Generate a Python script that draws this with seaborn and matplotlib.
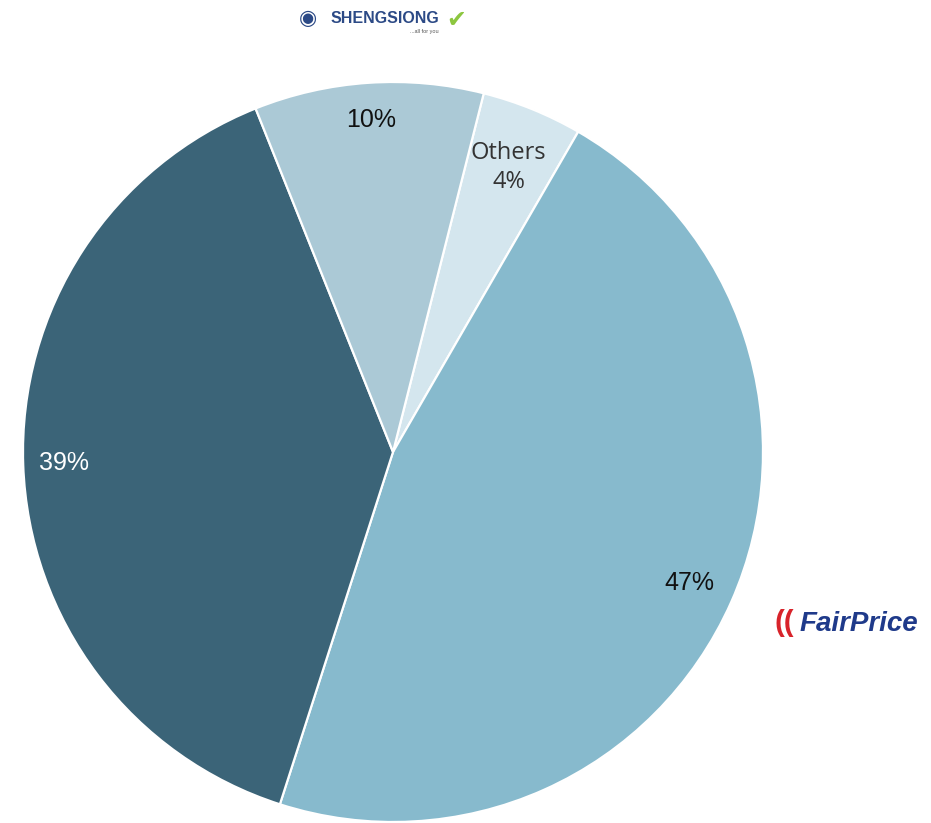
import matplotlib
matplotlib.use("Agg")
import matplotlib.pyplot as plt
import seaborn as sns
import numpy as np

# Market share of supermarket chains (clockwise from "Others")
chains = ["Others", "FairPrice", "Giant", "Sheng Siong"]
shares = [4.4, 46.6, 39.0, 10.0]
share_labels = ["4%", "47%", "39%", "10%"]
colors = ["#d4e6ee", "#87bacd", "#3b6478", "#abc9d6"]
label_colors = ["#333333", "#111111", "#ffffff", "#111111"]

sns.set_theme(style="white")
plt.rcParams["font.family"] = ["Liberation Sans", "DejaVu Sans"]

fig = plt.figure(figsize=(9.31, 8.23), dpi=100)
ax = fig.add_axes([0, 0, 1, 1])

R = 370.0
cx, cy = 393.0, 452.0
W, H = 931.0, 823.0

wedges, _ = ax.pie(
    shares,
    colors=colors,
    startangle=75.8,
    counterclock=False,
    radius=1.0,
    wedgeprops=dict(edgecolor="white", linewidth=1.6),
)

# percentage labels placed at the middle angle of each wedge
dists = [0.83, 0.875, 0.89, 0.90]
for w, lab, col, d, name in zip(wedges, share_labels, label_colors, dists, chains):
    ang = np.deg2rad((w.theta1 + w.theta2) / 2)
    x, y = d * np.cos(ang), d * np.sin(ang)
    if name == "Others":
        ax.text(x, y, "Others\n4%", ha="center", va="center", fontsize=17,
                color=col, family=["Open Sans", "DejaVu Sans"], linespacing=1.3)
    else:
        ax.text(x, y, lab, ha="center", va="center", fontsize=18, color=col)

ax.set_xlim(-cx / R, (W - cx) / R)
ax.set_ylim(-(H - cy) / R, cy / R)
ax.set_aspect("auto")
ax.axis("off")

# brand marks drawn as text
fig.text(0.331, 0.977, "\u25C9", fontsize=15, color="#2c4a86", ha="center", va="center")
fig.text(0.355, 0.978, "SHENGSIONG", fontsize=11.5, color="#2c4a86", weight="bold",
         ha="left", va="center")
fig.text(0.440, 0.962, "...all for you", fontsize=4, color="#555555", ha="left", va="center")
fig.text(0.490, 0.976, "\u2714", fontsize=17, color="#8cc63f", ha="center", va="center",
         family=["DejaVu Sans"])

fig.text(0.842, 0.243, "((", fontsize=21, color="#d8232a", weight="bold",
         ha="center", va="center")
fig.text(0.859, 0.242, "FairPrice", fontsize=20, color="#1f3a8a", weight="bold",
         style="italic", ha="left", va="center")

fig.savefig("out.png", dpi=100, facecolor="white")
